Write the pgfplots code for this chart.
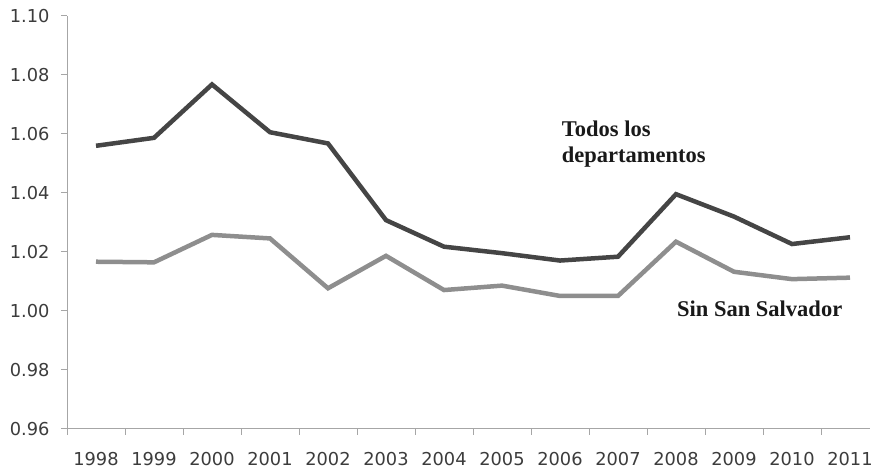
\documentclass[border=0pt]{standalone}
\usepackage{pgfplots}
\pgfplotsset{compat=1.18}
\usepackage{fontspec}
\setmainfont{DejaVu Sans}
\newfontfamily\annfont{Liberation Serif}
\definecolor{darkline}{HTML}{454545}
\definecolor{lightline}{HTML}{8E8E8E}
\definecolor{axisgray}{HTML}{A6A6A6}
\definecolor{ticktext}{HTML}{3C3C3C}
\begin{document}
\begin{tikzpicture}
\useasboundingbox (-67pt,-40.3pt) rectangle (806pt,428.7pt);
\begin{axis}[
  at={(0,0)}, anchor=south west,
  scale only axis,
  width=803pt, height=413pt,
  xmin=-0.5, xmax=13.345,
  ymin=0.96, ymax=1.10,
  axis lines*=left,
  axis line style={axisgray, line width=0.9pt},
  xtick={0,...,13},
  xticklabels={1998,1999,2000,2001,2002,2003,2004,2005,2006,2007,2008,2009,2010,2011},
  major x tick style={draw=none},
  minor xtick={-0.5,0.5,...,12.5},
  minor x tick style={axisgray, line width=0.9pt},
  minor tick length=6pt,
  ytick={0.96,0.98,...,1.101},
  major y tick style={axisgray, line width=0.9pt},
  major tick length=6pt,
  tick align=outside,
  y tick label style={/pgf/number format/fixed, /pgf/number format/fixed zerofill, /pgf/number format/precision=2},
  /pgf/number format/assume math mode=true,
  ticklabel style={font=\fontsize{17.8}{20}\selectfont, text=ticktext},
  xticklabel style={anchor=north, yshift=-14pt},
  yticklabel style={anchor=east, xshift=-8pt},
  clip=false,
]
\addplot[darkline, line width=4.5pt, line join=miter] coordinates {
(0,1.0559) (1,1.0586) (2,1.0767) (3,1.0605) (4,1.0567) (5,1.0307) (6,1.0217)
(7,1.0195) (8,1.0170) (9,1.0183) (10,1.0395) (11,1.0319) (12,1.0226) (13,1.0249)
};
\addplot[lightline, line width=4.5pt, line join=miter] coordinates {
(0,1.0166) (1,1.0164) (2,1.0257) (3,1.0245) (4,1.0076) (5,1.0186) (6,1.0070)
(7,1.0085) (8,1.0050) (9,1.0050) (10,1.0234) (11,1.0132) (12,1.0107) (13,1.0112)
};
\node[anchor=base west, inner sep=0pt, font=\annfont\bfseries\fontsize{22.5}{24}\selectfont, text=black!90] at (axis cs:8.03,1.0589) {Todos los};
\node[anchor=base west, inner sep=0pt, font=\annfont\bfseries\fontsize{22.5}{24}\selectfont, text=black!90] at (axis cs:8.03,1.0501) {departamentos};
\node[anchor=base west, inner sep=0pt, font=\annfont\bfseries\fontsize{22.5}{24}\selectfont, text=black!90] at (axis cs:10.017,0.9982) {Sin San Salvador};
\end{axis}
\end{tikzpicture}
\end{document}
